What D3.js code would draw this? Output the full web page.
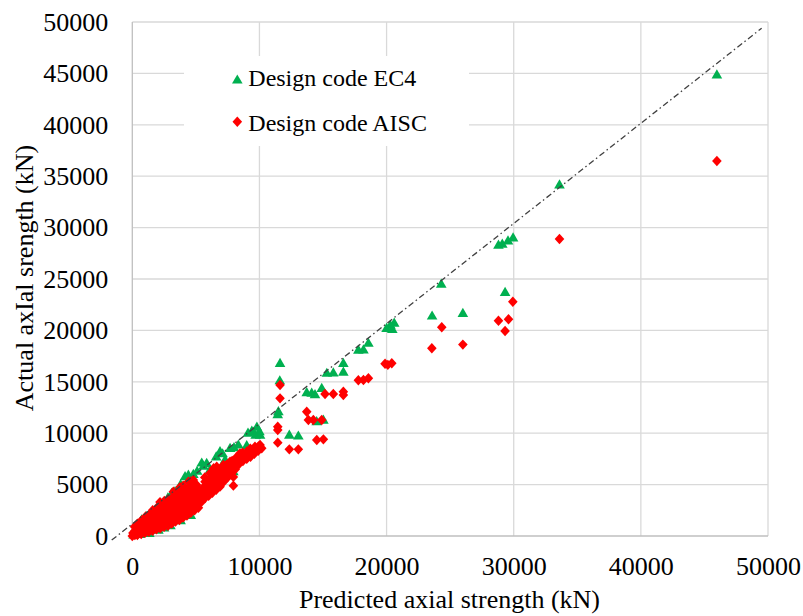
<!DOCTYPE html>
<html>
<head>
<meta charset="utf-8">
<script src="https://cdn.jsdelivr.net/npm/d3@7"></script>
<style>
  body { margin: 0; background: #fff; }
  svg text { font-family: "Liberation Serif", "Times New Roman", Times, "DejaVu Serif", serif !important; fill: #000; }
</style>
</head>
<body>
<div id="chart"></div>
<script>
/* DATA */
const xTicks = [0, 10000, 20000, 30000, 40000, 50000]
const yTicks = [0, 5000, 10000, 15000, 20000, 25000, 30000, 35000, 40000, 45000, 50000]
const seriesNames = ["Design code EC4", "Design code AISC"]
const xTitle = "Predicted axial strength (kN)"
const yTitle = "Actual axIal srength (kN)"

// hand drawn reference line (not exactly 1:1)
const refLine = [[-1620, -400], [49500, 49400]]

// [predicted, actual]
const ec4Large = [
  [45980, 44850], [33600, 34150], [28800, 28300], [29100, 28400], [29550, 28700], [29950, 29000],
  [29320, 23700], [26000, 21650], [24300, 24500], [23580, 21400], [20000, 20200], [20300, 20500],
  [20600, 20700], [20450, 20100], [18570, 18750], [18180, 18100], [17780, 18080], [16600, 16800],
  [16600, 15950], [15810, 15860], [15300, 15830], [14900, 14370], [14370, 13750], [14110, 13900],
  [13720, 13950], [15030, 11280], [14500, 11120], [13060, 9730], [12350, 9820], [11620, 16800],
  [11600, 15100], [11490, 12090], [11440, 11800]
]
const ec4Small = [
  [10000, 10150], [9800, 10600], [9400, 10200], [9100, 10000], [9700, 9800], [9500, 10100],
  [10050, 9820], [8340, 8850], [8000, 8600], [7690, 8530], [6900, 8200], [7100, 8000], [6600, 7700],
  [6110, 6420], [5850, 7070], [5460, 7100], [5600, 6800], [5100, 6300], [4800, 6000], [4410, 5930],
  [4150, 5770], [3800, 5000], [3360, 4310], [3100, 4150], [2800, 3700], [2440, 3180], [2200, 3000],
  [1920, 2690], [1500, 2200], [1130, 1880], [740, 1560], [400, 900], [200, 400], [100, 100],
  [300, 150], [600, 150], [1000, 300], [1340, 250], [2050, 580], [3000, 1000], [3800, 1500],
  [7950, 6250], [4600, 2000], [2500, 800], [8500, 7500], [9000, 8800], [7300, 7400], [6300, 6000],
  [5200, 4400], [4000, 3600], [3300, 2800], [2000, 1500]
]

const aiscLarge = [
  [45980, 36480], [33600, 28890], [29930, 22790], [28800, 20940], [29590, 21080], [29320, 19940],
  [26000, 18620], [24340, 20300], [23560, 18260], [20410, 16800], [19880, 16750], [20100, 16650],
  [18570, 15340], [18180, 15180], [17780, 15150], [16600, 14040], [16600, 13720], [15810, 13810],
  [15160, 13810], [15030, 9400], [14510, 9340], [14900, 11280], [14240, 11280], [13850, 11280],
  [13720, 12090], [13060, 8430], [12350, 8430], [11620, 14690], [11620, 13390], [11440, 10630],
  [11440, 10310], [11440, 9080]
]
const aiscSmall = [
  [0, 0], [50, 300],
  [200, 100], [220, 500], [180, 900],
  [400, 100], [420, 500], [380, 900], [400, 1200],
  [700, 200], [720, 600], [680, 1000], [700, 1500],
  [1000, 300], [1020, 700], [980, 1100], [1000, 1500], [1050, 1900],
  [1300, 400], [1320, 800], [1280, 1200], [1300, 1600], [1350, 2100],
  [1600, 500], [1620, 900], [1580, 1300], [1600, 1700], [1650, 2100], [1600, 2500],
  [1900, 650], [1920, 1000], [1880, 1400], [1900, 1800], [1950, 2200], [1900, 2700],
  [2200, 750], [2220, 1100], [2180, 1500], [2200, 1900], [2250, 2300], [2200, 2800], [2180, 3300],
  [2500, 900], [2520, 1300], [2480, 1700], [2500, 2100], [2550, 2500], [2500, 2900], [2520, 3400],
  [2800, 1000], [2820, 1400], [2780, 1800], [2800, 2200], [2850, 2600], [2800, 3000], [2800, 3550],
  [3100, 1200], [3120, 1600], [3080, 2000], [3100, 2400], [3150, 2800], [3100, 3200], [3120, 3700], [3230, 4300],
  [3400, 1400], [3420, 1800], [3380, 2200], [3400, 2600], [3450, 3000], [3400, 3400], [3420, 3800], [3500, 4250],
  [3700, 1550], [3720, 1900], [3680, 2300], [3700, 2700], [3750, 3100], [3700, 3500], [3720, 3900], [3750, 4750],
  [4000, 1800], [4020, 2200], [3980, 2600], [4000, 3000], [4050, 3400], [4000, 3800], [4020, 4300], [4000, 4900],
  [4300, 2000], [4320, 2400], [4280, 2800], [4300, 3200], [4350, 3600], [4300, 4000], [4320, 4500], [4410, 5280],
  [4600, 2250], [4620, 2600], [4580, 3000], [4600, 3400], [4650, 3800], [4600, 4300], [4620, 4800], [4600, 5300],
  [4900, 2500], [4920, 2900], [4880, 3300], [4900, 3700], [4950, 4100], [4900, 4600], [4920, 5000], [4800, 5450],
  [5200, 2750], [5220, 3200], [5180, 3600], [5200, 4000], [5250, 4500], [5060, 4960],
  [5460, 3340], [5480, 3700], [5440, 4100], [5460, 4470],
  [5720, 3700], [5740, 4100], [5700, 4500], [5720, 4900], [5720, 5280], [5700, 5700],
  [6000, 3900], [6020, 4300], [5980, 4700], [6000, 5100], [6050, 5500], [6110, 6100],
  [6300, 4200], [6320, 4600], [6280, 5000], [6300, 5400], [6350, 5800], [6300, 6200], [6400, 6600],
  [6600, 4500], [6620, 4900], [6580, 5300], [6600, 5700], [6650, 6100], [6600, 6500], [6640, 6740],
  [6900, 4800], [6920, 5200], [6880, 5600], [6900, 6000], [6950, 6400], [7160, 6910],
  [7200, 5300], [7220, 5700], [7180, 6100], [7200, 6500], [7400, 6900],
  [7500, 5700], [7520, 6100], [7480, 6500], [7500, 6900], [7690, 7230],
  [7800, 6100], [7820, 6500], [7780, 6900], [7850, 7300], [7950, 5750], [7950, 4900],
  [8100, 6500], [8120, 6900], [8080, 7300], [8150, 7600],
  [8400, 7000], [8420, 7400], [8340, 7560], [8470, 8040],
  [8700, 7300], [8720, 7700], [8680, 8100],
  [9000, 7500], [9020, 7900], [9000, 8200],
  [9300, 7700], [9320, 8100], [9280, 8500],
  [9600, 8000], [9650, 8400], [9650, 8690],
  [9900, 8300], [9920, 8700], [10050, 8850], [10180, 8530]
]

const ec4Points = [...ec4Small, ...ec4Large]
const aiscPoints = [...aiscSmall, ...aiscLarge]

/* LAYOUT */
const width = 803, height = 616
const plot = { left: 132.3, right: 768, top: 22, bottom: 536 }
const fontSize = 26
const serif = '"Liberation Serif", "Times New Roman", Times, "DejaVu Serif", serif'
const gridColor = "#d9d9d9"
const ec4Color = "#00b050", aiscColor = "#ff0000"

const triangle = "M0,-5.6L5.3,3.6L-5.3,3.6Z"
const diamond = "M0,-5.2L4.8,0L0,5.2L-4.8,0Z"

const xScale = d3.scaleLinear().domain([0, 50000]).range([plot.left, plot.right])
const yScale = d3.scaleLinear().domain([0, 50000]).range([plot.bottom, plot.top])

const svg = d3.select("#chart").append("svg")
  .attr("width", width)
  .attr("height", height)
  .attr("font-family", serif)

// GRID
svg.append("g")
  .selectAll("line")
  .data(yTicks.slice(1))
  .join("line")
  .attr("x1", plot.left).attr("x2", plot.right)
  .attr("y1", d => yScale(d)).attr("y2", d => yScale(d))
  .attr("stroke", gridColor).attr("stroke-width", 1.3)

svg.append("g")
  .selectAll("line")
  .data(xTicks.slice(1))
  .join("line")
  .attr("x1", d => xScale(d)).attr("x2", d => xScale(d))
  .attr("y1", plot.top).attr("y2", plot.bottom)
  .attr("stroke", gridColor).attr("stroke-width", 1.3)

// axis lines
svg.append("line")
  .attr("x1", plot.left).attr("x2", plot.left)
  .attr("y1", plot.top).attr("y2", plot.bottom)
  .attr("stroke", "#bfbfbf").attr("stroke-width", 1.3)
svg.append("line")
  .attr("x1", plot.left).attr("x2", plot.right)
  .attr("y1", plot.bottom).attr("y2", plot.bottom)
  .attr("stroke", "#bfbfbf").attr("stroke-width", 1.3)

// AXES (labels only)
const xAxis = d3.axisBottom(xScale).tickValues(xTicks).tickSize(0).tickPadding(20.5).tickFormat(d3.format("d"))
const yAxis = d3.axisLeft(yScale).tickValues(yTicks).tickSize(0).tickPadding(24).tickFormat(d3.format("d"))

svg.append("g")
  .attr("transform", `translate(0,${plot.bottom})`)
  .call(xAxis)
  .attr("font-family", serif)
  .attr("font-size", fontSize)
  .call(g => g.select(".domain").remove())
  .selectAll("text")
  .attr("fill", "#000")

svg.append("g")
  .attr("transform", `translate(${plot.left},0)`)
  .call(yAxis)
  .attr("font-family", serif)
  .attr("font-size", fontSize)
  .call(g => g.select(".domain").remove())
  .selectAll("text")
  .attr("fill", "#000")

// axis titles
svg.append("text")
  .attr("text-anchor", "middle")
  .attr("x", 449.5)
  .attr("y", 608)
  .attr("font-size", fontSize)
  .text(xTitle)

svg.append("text")
  .attr("text-anchor", "middle")
  .attr("transform", "translate(33,278) rotate(-90)")
  .attr("font-size", fontSize)
  .text(yTitle)

// POINTS
svg.append("g")
  .selectAll("path")
  .data(ec4Points)
  .join("path")
  .attr("d", triangle)
  .attr("transform", d => `translate(${xScale(d[0])},${yScale(d[1])})`)
  .attr("fill", ec4Color)

svg.append("g")
  .selectAll("path")
  .data(aiscPoints)
  .join("path")
  .attr("d", diamond)
  .attr("transform", d => `translate(${xScale(d[0])},${yScale(d[1])})`)
  .attr("fill", aiscColor)

// dash-dot reference line
svg.append("line")
  .attr("x1", xScale(refLine[0][0])).attr("y1", yScale(refLine[0][1]))
  .attr("x2", xScale(refLine[1][0])).attr("y2", yScale(refLine[1][1]))
  .attr("stroke", "#404040")
  .attr("stroke-width", 1.3)
  .attr("stroke-dasharray", "6,3,1.5,3")

// LEGEND
const legend = svg.append("g")
legend.append("rect")
  .attr("x", 184).attr("y", 56)
  .attr("width", 285).attr("height", 90)
  .attr("fill", "#fff")

const legendItems = legend.selectAll("g.item")
  .data(seriesNames)
  .join("g")
  .attr("class", "item")
  .attr("transform", (d, i) => `translate(237.3,${i === 0 ? 80 : 121.7})`)

legendItems.append("path")
  .attr("d", (d, i) => i === 0 ? triangle : diamond)
  .attr("fill", (d, i) => i === 0 ? ec4Color : aiscColor)

legendItems.append("text")
  .attr("x", 11)
  .attr("y", (d, i) => i === 0 ? 6 : 9)
  .attr("font-size", 24)
  .text(d => d)
</script>
</body>
</html>
